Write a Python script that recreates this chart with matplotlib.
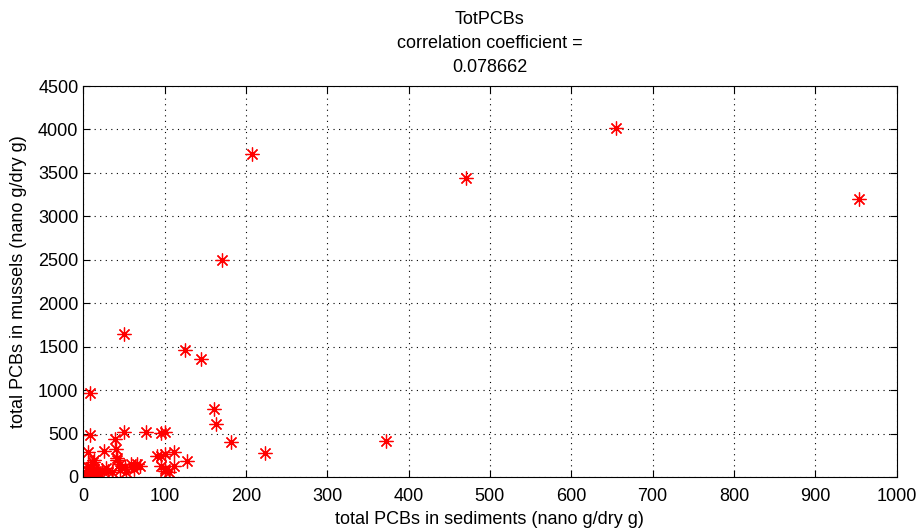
import numpy as np
import matplotlib
matplotlib.use('Agg')
import matplotlib.pyplot as plt

# valores
sed = [8.6, 8.6, 5.7, 12.7, 38.5, 49.5, 77, 96, 100.7, 26, 40, 41,
       90.5, 96, 100.7, 112, 127, 161, 163, 182, 223, 50.4, 125, 145,
       171, 207, 470.6, 655, 954, 372,
       41, 45, 12, 8, 22.6, 31, 51, 53, 59, 66, 70, 45,
       96, 111, 100, 100.5, 105,
       3, 5, 7, 9, 11, 14, 16, 18, 4, 6, 10, 13, 2, 20, 15, 28, 35, 62]
mus = [970, 483, 291, 196, 434, 522, 522, 503, 522, 299, 318, 196,
       241, 241, 265, 291, 184, 779, 610, 403, 272, 1642, 1461, 1354,
       2492, 3714, 3437, 4013, 3196, 415,
       221, 152, 176, 120, 75, 67, 113, 55, 144, 152, 132, 75,
       121, 121, 94, 67, 55,
       40, 80, 25, 60, 100, 30, 70, 45, 10, 110, 15, 90, 50, 35, 5, 100, 60, 95]

plt.rcParams['font.family'] = ['Liberation Sans', 'DejaVu Sans']
fig = plt.figure(figsize=(9.2, 5.31), dpi=100)
ax = fig.add_axes([0.0905, 0.1017, 0.884, 0.7363])

# asterisco estilo matlab
ax.plot(sed, mus, linestyle='none', marker=(8, 2, 0), color='red',
        markersize=10, markeredgewidth=0.9)

ax.set_xlim(0, 1000)
ax.set_ylim(0, 4500)
ax.set_xticks(np.arange(0, 1001, 100))
ax.set_yticks(np.arange(0, 4501, 500))
ax.grid(True, linestyle=(0, (1, 4)), color='black', linewidth=0.8)
ax.tick_params(direction='in', top=True, right=True, labelsize=13, length=5)
ax.tick_params(axis='x', pad=8)
for s in ax.spines.values():
    s.set_linewidth(0.8)

ax.set_xlabel('total PCBs in sediments (nano g/dry g)', fontsize=13, labelpad=4)
ax.set_ylabel('total PCBs in mussels (nano g/dry g)', fontsize=13, labelpad=8)
ax.set_title('TotPCBs\ncorrelation coefficient =\n0.078662', fontsize=13, pad=10, linespacing=1.55)

fig.savefig('out.png', dpi=100)
